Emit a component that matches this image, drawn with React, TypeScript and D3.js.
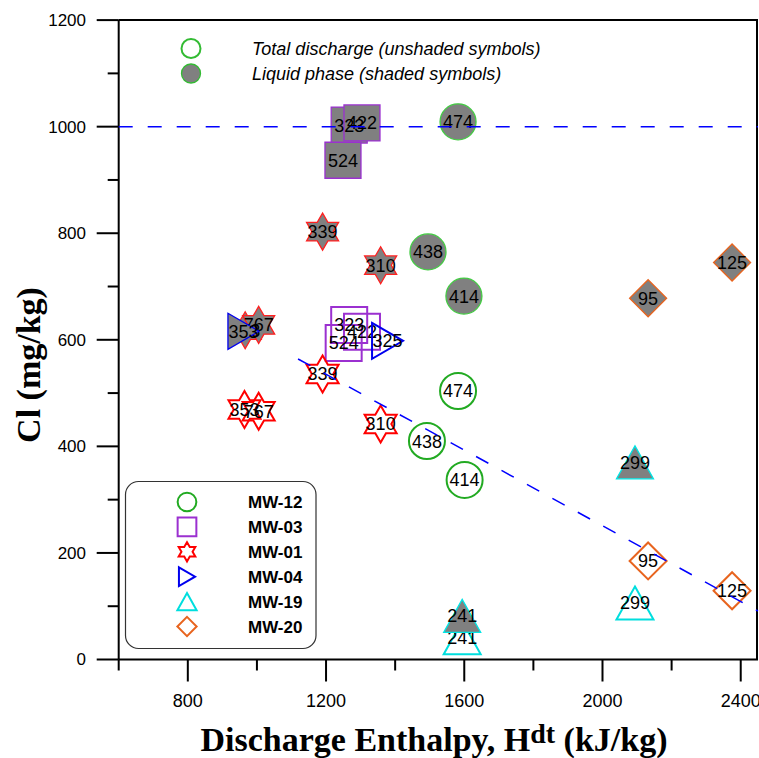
import React, { useEffect, useRef } from 'react';
import * as d3 from 'd3';

const wells = ['MW-12', 'MW-03', 'MW-01', 'MW-04', 'MW-19', 'MW-20'];
const wellColors = ['#22aa22', '#9b30d0', '#ff0000', '#0000ee', '#00dede', '#e8641e'];
const shadedStroke = ['#44cc44', '#9b30d0', '#ff2020', '#0000ee', '#00e5e5', '#e8641e'];
const wellShapes = ['circle', 'square', 'star', 'triRight', 'triUp', 'diamond'];

// total discharge (unshaded): [enthalpy, Cl, sample]
const totalMW12 = [[1582, 504, '474'], [1492, 410, '438'], [1601, 337, '414']];
const totalMW03 = [[1267, 628, '323'], [1304, 615, '422'], [1251, 594, '524']];
const totalMW01 = [[1190, 536, '339'], [1358, 442, '310'], [964, 469, '353'], [1005, 466, '767']];
const totalMW04 = [[1378, 598, '325']];
const totalMW19 = [[2094, 106, '299'], [1594, 41, '241']];
const totalMW20 = [[2132, 185, '95'], [2375, 129, '125']];

// liquid phase (shaded)
const liquidMW12 = [[1582, 1009, '474'], [1495, 765, '438'], [1599, 682, '414']];
const liquidMW03 = [[1267, 1003, '323'], [1304, 1007, '422'], [1249, 937, '524']];
const liquidMW01 = [[1190, 803, '339'], [1358, 740, '310'], [966, 618, '353'], [1005, 628, '767']];
const liquidMW04 = [[961, 616, '353']];
const liquidMW19 = [[2094, 370, '299'], [1594, 82, '241']];
const liquidMW20 = [[2132, 678, '95'], [2375, 745, '125']];

const totalSeries = [totalMW12, totalMW03, totalMW01, totalMW04, totalMW19, totalMW20];
const liquidSeries = [liquidMW12, liquidMW03, liquidMW01, liquidMW04, liquidMW19, liquidMW20];

const refLine = [[600, 1000], [2450, 1000]];
const trendLine = [[1119, 564], [2450, 91]];

const xMajor = [800, 1200, 1600, 2000, 2400];
const xMinor = [600, 1000, 1400, 1800, 2200];
const yMajor = [0, 200, 400, 600, 800, 1000, 1200];
const yMinor = [100, 300, 500, 700, 900, 1100];

const SANS = 'Liberation Sans, Arial, sans-serif';
const SERIF = 'Liberation Serif, Times New Roman, serif';

const shapePath = (shape, s) => {
    if (shape === 'circle') {
        const r = 18 * s;
        return `M${r},0A${r},${r} 0 1 1 ${-r},0A${r},${r} 0 1 1 ${r},0Z`;
    }
    if (shape === 'square') {
        const h = 18 * s;
        return `M${-h},${-h}H${h}V${h}H${-h}Z`;
    }
    if (shape === 'star') {
        const R = 18.5 * s;
        const r = R / Math.sqrt(3);
        const pts = d3.range(12).map((i) => {
            const a = -Math.PI / 2 + (i * Math.PI) / 6;
            const rr = i % 2 === 0 ? R : r;
            return [rr * Math.cos(a), rr * Math.sin(a)];
        });
        return 'M' + pts.map((p) => p.join(',')).join('L') + 'Z';
    }
    if (shape === 'triRight') {
        const w = 31 * s, h = 36 * s;
        return `M${-w / 2},${-h / 2}L${w / 2},0L${-w / 2},${h / 2}Z`;
    }
    if (shape === 'triUp') {
        const w = 37 * s, h = 33 * s;
        return `M0,${-h / 2}L${w / 2},${h / 2}L${-w / 2},${h / 2}Z`;
    }
    const d = 18.5 * s;
    return `M0,${-d}L${d},0L0,${d}L${-d},0Z`;
};

const App = () => {
    const svgRef = useRef(null);

    useEffect(() => {
        const svg = d3.select(svgRef.current);
        svg.selectAll('*').remove();

        const x = d3.scaleLinear().domain([600, 2450]).range([118.7, 758]);
        const y = d3.scaleLinear().domain([0, 1200]).range([659.5, 20.1]);

        // frame (top / right)
        svg.append('path')
            .attr('d', `M${x(600)},${y(1200)}H${x(2450) - 1}V${y(0)}`)
            .attr('fill', 'none')
            .attr('stroke', '#000')
            .attr('stroke-width', 2);

        // axes
        const xAxis = svg.append('g');
        xAxis.append('line')
            .attr('x1', x(600)).attr('x2', x(2450))
            .attr('y1', y(0)).attr('y2', y(0))
            .attr('stroke', '#000').attr('stroke-width', 2);
        xAxis.selectAll('.maj').data(xMajor).join('line')
            .attr('x1', (d) => x(d)).attr('x2', (d) => x(d))
            .attr('y1', y(0)).attr('y2', y(0) + 22)
            .attr('stroke', '#000').attr('stroke-width', 2);
        xAxis.selectAll('.min').data(xMinor).join('line')
            .attr('x1', (d) => x(d)).attr('x2', (d) => x(d))
            .attr('y1', y(0)).attr('y2', y(0) + 11)
            .attr('stroke', '#000').attr('stroke-width', 2);
        xAxis.selectAll('text').data(xMajor).join('text')
            .attr('x', (d) => x(d)).attr('y', 707)
            .attr('text-anchor', 'middle')
            .style('font-family', SANS).style('font-size', '18px')
            .text((d) => d);

        const yAxis = svg.append('g');
        yAxis.append('line')
            .attr('x1', x(600)).attr('x2', x(600))
            .attr('y1', y(1200)).attr('y2', y(0))
            .attr('stroke', '#000').attr('stroke-width', 2);
        yAxis.selectAll('.maj').data(yMajor).join('line')
            .attr('x1', x(600) - 22).attr('x2', x(600))
            .attr('y1', (d) => y(d)).attr('y2', (d) => y(d))
            .attr('stroke', '#000').attr('stroke-width', 2);
        yAxis.selectAll('.min').data(yMinor).join('line')
            .attr('x1', x(600) - 11).attr('x2', x(600))
            .attr('y1', (d) => y(d)).attr('y2', (d) => y(d))
            .attr('stroke', '#000').attr('stroke-width', 2);
        yAxis.selectAll('text').data(yMajor).join('text')
            .attr('x', 86).attr('y', (d) => y(d))
            .attr('dy', '0.35em')
            .attr('text-anchor', 'end')
            .style('font-family', SANS).style('font-size', '17px')
            .text((d) => d);

        // axis titles
        const xt = svg.append('text')
            .attr('x', 434).attr('y', 751)
            .attr('text-anchor', 'middle')
            .style('font-family', SERIF).style('font-weight', 'bold').style('font-size', '34px');
        xt.append('tspan').text('Discharge Enthalpy, H');
        xt.append('tspan').attr('dy', -8).style('font-size', '28px').text('dt');
        xt.append('tspan').attr('dy', 8).text(' (kJ/kg)');

        svg.append('text')
            .attr('transform', 'translate(40,365) rotate(-90)')
            .attr('text-anchor', 'middle')
            .style('font-family', SERIF).style('font-weight', 'bold').style('font-size', '34px')
            .text('Cl (mg/kg)');

        // markers: total discharge first, liquid phase on top
        const drawLayer = (series, shaded) => {
            series.forEach((pts, i) => {
                const g = svg.append('g');
                g.selectAll('path').data(pts).join('path')
                    .attr('d', shapePath(wellShapes[i], 1))
                    .attr('transform', (d) => `translate(${x(d[0])},${y(d[1])})`)
                    .attr('fill', shaded ? '#808080' : 'none')
                    .attr('stroke', shaded ? shadedStroke[i] : wellColors[i])
                    .attr('stroke-width', shaded ? 1.3 : 2);
                g.selectAll('text').data(pts).join('text')
                    .attr('x', (d) => x(d[0])).attr('y', (d) => y(d[1]))
                    .attr('dy', '0.36em')
                    .attr('text-anchor', 'middle')
                    .style('font-family', SANS).style('font-size', '18px')
                    .attr('fill', '#000')
                    .text((d) => d[2]);
            });
        };
        drawLayer(totalSeries, false);
        drawLayer(liquidSeries, true);

        // reference lines
        const line = d3.line().x((d) => x(d[0])).y((d) => y(d[1]));
        [refLine, trendLine].forEach((l) => {
            svg.append('path')
                .attr('d', line(l))
                .attr('fill', 'none')
                .attr('stroke', '#0000ff')
                .attr('stroke-width', 1.5)
                .attr('stroke-dasharray', '14,15');
        });

        // top legend
        const topLeg = svg.append('g');
        [['Total discharge (unshaded symbols)', false], ['Liquid phase (shaded symbols)', true]].forEach((row, i) => {
            topLeg.append('circle')
                .attr('cx', 191).attr('cy', 48.5 + i * 25).attr('r', 9.5)
                .attr('fill', row[1] ? '#808080' : '#fff')
                .attr('stroke', '#33bb33').attr('stroke-width', row[1] ? 1.3 : 2);
            topLeg.append('text')
                .attr('x', 252).attr('y', 54.5 + i * 25)
                .style('font-family', SANS).style('font-style', 'italic').style('font-size', '18px')
                .text(row[0]);
        });

        // well legend
        const leg = svg.append('g');
        leg.append('rect')
            .attr('x', 125.5).attr('y', 481.5).attr('width', 190.5).attr('height', 167)
            .attr('rx', 13).attr('ry', 13)
            .attr('fill', '#fff').attr('stroke', '#333').attr('stroke-width', 1.2);
        wells.forEach((w, i) => {
            const cy = 502 + i * 24.9;
            leg.append('path')
                .attr('d', shapePath(wellShapes[i], 0.52))
                .attr('transform', `translate(187,${cy})`)
                .attr('fill', 'none')
                .attr('stroke', wellColors[i]).attr('stroke-width', 2);
            leg.append('text')
                .attr('x', 248).attr('y', cy + 6)
                .style('font-family', SANS).style('font-weight', 'bold').style('font-size', '17px')
                .text(w);
        });
    }, []);

    return (
        <svg
            ref={svgRef}
            width={759}
            height={758}
            style={{ position: 'absolute', left: 0, top: 0, background: '#fff' }}
        />
    );
};

export default App;
